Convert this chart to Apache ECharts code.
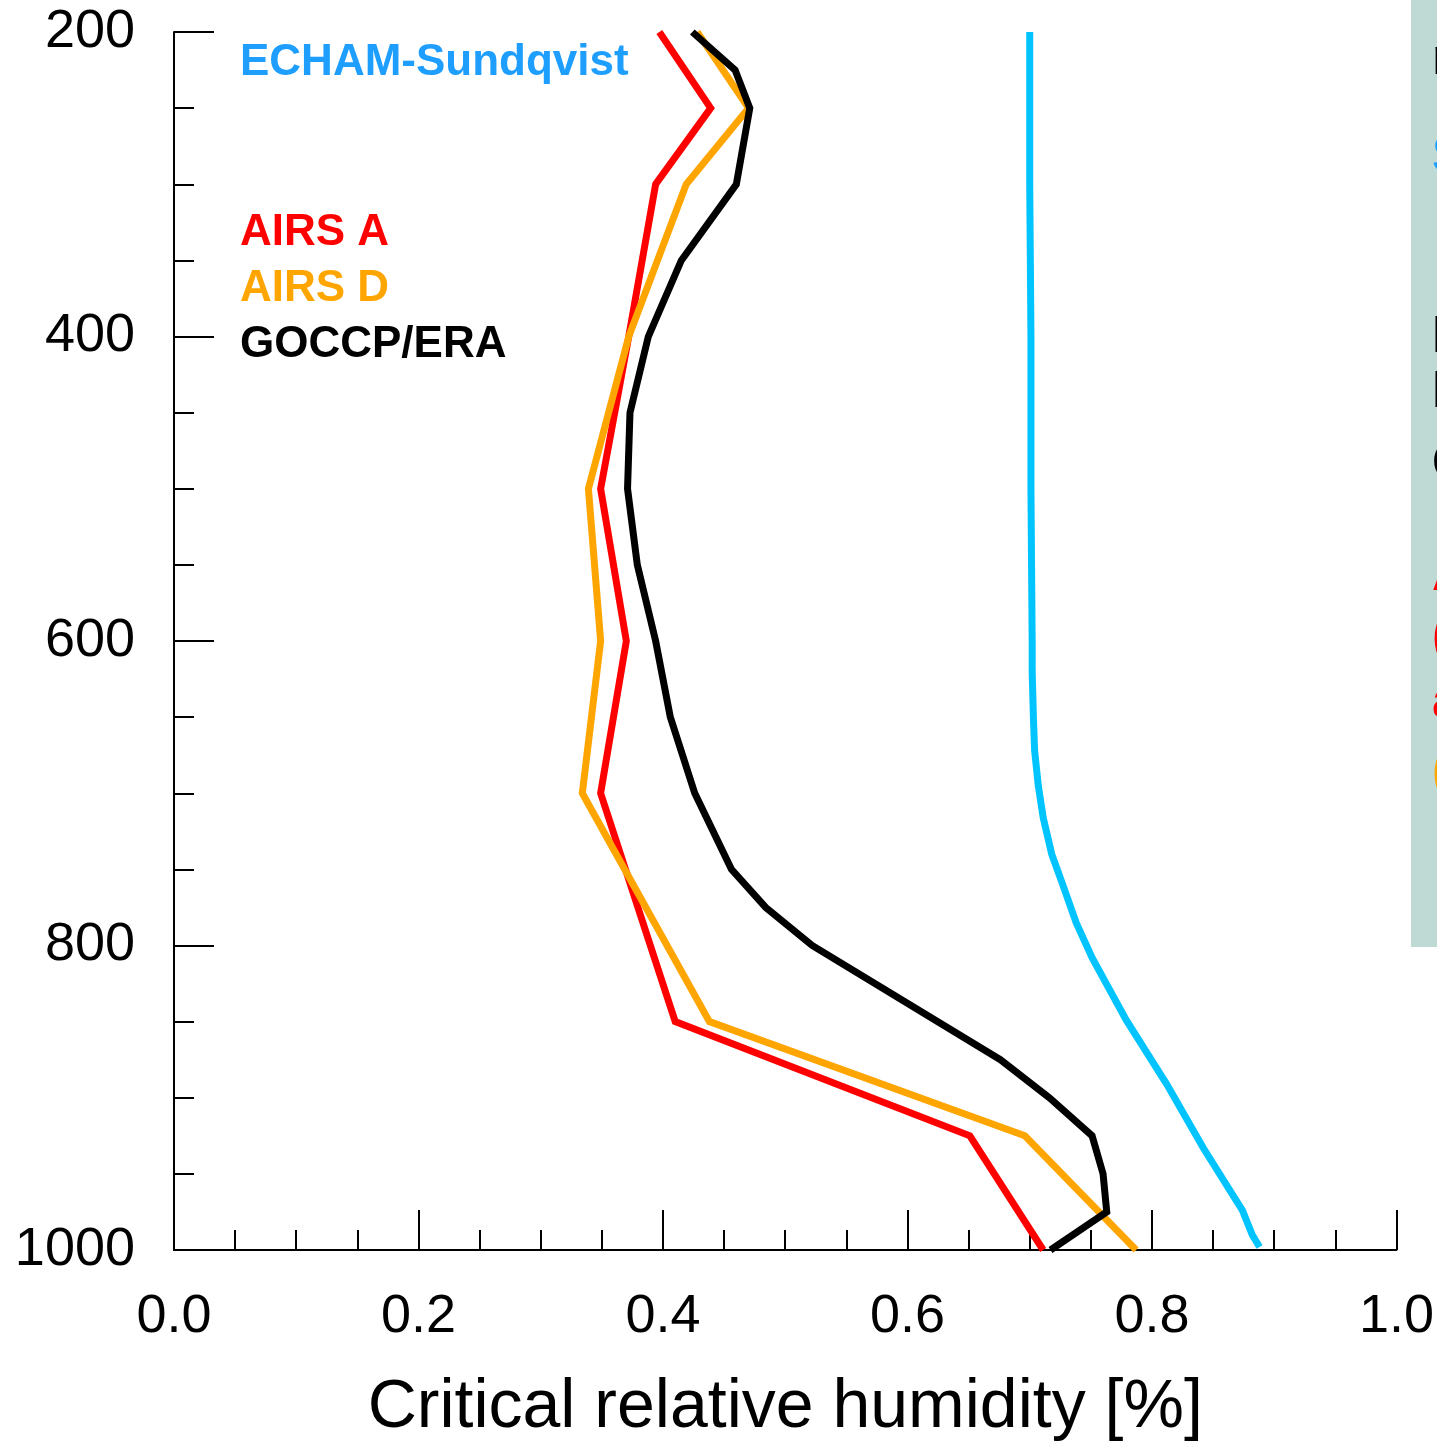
<!DOCTYPE html>
<html>
<head>
<meta charset="utf-8">
<script src="https://cdn.jsdelivr.net/npm/echarts@6/dist/echarts.min.js"></script>
<style>
html,body{margin:0;padding:0;background:#fff;overflow:hidden;}
#chart{width:1437px;height:1447px;}
</style>
</head>
<body>
<div id="chart"></div>
<script>
// Pressure levels (hPa) and critical relative humidity values
const airsALevels = [200, 250, 300, 400, 500, 600, 700, 850, 925, 1000];
const airsAValues = [0.397, 0.439, 0.394, 0.372, 0.349, 0.370, 0.349, 0.410, 0.651, 0.711];

const airsDLevels = [200, 250, 300, 400, 500, 600, 700, 850, 925, 1000];
const airsDValues = [0.428, 0.470, 0.419, 0.372, 0.339, 0.349, 0.334, 0.438, 0.696, 0.787];

const goccpLevels = [200, 225, 250, 300, 350, 400, 450, 500, 550, 600, 650, 700, 750, 775, 800, 875, 900, 925, 950, 975, 1000];
const goccpValues = [0.424, 0.459, 0.471, 0.460, 0.415, 0.388, 0.373, 0.371, 0.379, 0.394, 0.406, 0.426, 0.456, 0.484, 0.522, 0.676, 0.716, 0.751, 0.760, 0.763, 0.717];

const echamLevels = [200, 300, 400, 500, 600, 620, 650, 672, 695, 716, 740, 760, 785, 808, 849, 891, 933, 974, 990, 998];
const echamValues = [0.700, 0.700, 0.701, 0.701, 0.702, 0.702, 0.703, 0.704, 0.707, 0.711, 0.718, 0.727, 0.738, 0.751, 0.779, 0.812, 0.842, 0.874, 0.882, 0.888];

const xTickLabels = ['0.0', '0.2', '0.4', '0.6', '0.8', '1.0'];
const yTickLabels = ['200', '400', '600', '800', '1000'];

const legendItems = [
  {name: 'ECHAM-Sundqvist', color: '#1E9EFF', y: 60},
  {name: 'AIRS A', color: '#FF0000', y: 230},
  {name: 'AIRS D', color: '#FFA500', y: 286},
  {name: 'GOCCP/ERA', color: '#000000', y: 342}
];

function pairs(vals, levels) { return vals.map((v, i) => [v, levels[i]]); }

const FONT = 'Liberation Sans, Arial, Helvetica, sans-serif';
const chart = echarts.init(document.getElementById('chart'), null, {renderer: 'canvas', width: 1437, height: 1447});

function lineSeries(name, color, vals, levels, width) {
  return {
    name: name, type: 'line', data: pairs(vals, levels),
    symbol: 'none', smooth: false, clip: false,
    lineStyle: {color: color, width: width, join: 'miter'},
    itemStyle: {color: color},
    z: 3
  };
}

// right-hand partial panel fragments
const panelFrags = [
  {t: 'n', c: '#000', y: 62},
  {t: 'S', c: '#1E9EFF', y: 160},
  {t: 'I', c: '#000', y: 340},
  {t: 'I', c: '#000', y: 395},
  {t: 'C', c: '#000', y: 467},
  {t: 'A', c: '#FF0000', y: 578},
  {t: '(', c: '#FF0000', y: 640},
  {t: 'a', c: '#FF0000', y: 705},
  {t: '(', c: '#FFA500', y: 775}
];

const graphics = [
  {type: 'rect', left: 1411, top: 0, shape: {width: 40, height: 947}, style: {fill: '#BFD9D5'}, z: 0}
];
panelFrags.forEach(f => graphics.push({
  type: 'text', left: 1432, top: f.y - 28,
  style: {text: f.t, fill: f.c, font: 'bold 52px ' + FONT}, z: 1
}));
legendItems.forEach(l => graphics.push({
  type: 'text', left: 240, top: l.y - 19,
  style: {text: l.name, fill: l.color, font: 'bold 44px ' + FONT}, z: 5
}));

chart.setOption({
  animation: false,
  backgroundColor: '#ffffff',
  grid: {left: 174, right: 40, top: 32, bottom: 192, containLabel: false},
  xAxis: {
    type: 'value', min: 0, max: 1, interval: 0.2,
    name: 'Critical relative humidity [%]',
    nameLocation: 'middle', nameGap: 124,
    nameTextStyle: {fontSize: 68, color: '#000', fontFamily: FONT},
    axisLine: {show: true, lineStyle: {color: '#000', width: 2}},
    axisTick: {show: true, inside: true, length: 40, lineStyle: {color: '#000', width: 2}},
    minorTick: {show: true, splitNumber: 4, length: 20, lineStyle: {color: '#000', width: 2}},
    splitLine: {show: false},
    axisLabel: {
      fontSize: 54, color: '#000', fontFamily: FONT, margin: 40,
      formatter: function (v) { return xTickLabels[Math.round(v / 0.2)] || ''; }
    }
  },
  yAxis: {
    type: 'value', inverse: true, min: 200, max: 1000, interval: 200,
    axisLine: {show: true, lineStyle: {color: '#000', width: 2}},
    axisTick: {show: true, inside: true, length: 40, lineStyle: {color: '#000', width: 2}},
    minorTick: {show: true, splitNumber: 4, length: 20, lineStyle: {color: '#000', width: 2}},
    splitLine: {show: false},
    axisLabel: {
      fontSize: 54, color: '#000', fontFamily: FONT, margin: 39,
      formatter: function (v) { return yTickLabels[Math.round((v - 200) / 200)] || ''; }
    }
  },
  series: [
    lineSeries('ECHAM-Sundqvist', '#00C4FF', echamValues, echamLevels, 7),
    lineSeries('AIRS A', '#FF0000', airsAValues, airsALevels, 7),
    lineSeries('AIRS D', '#FFA500', airsDValues, airsDLevels, 7),
    lineSeries('GOCCP/ERA', '#000000', goccpValues, goccpLevels, 7)
  ],
  graphic: graphics
});
</script>
</body>
</html>
